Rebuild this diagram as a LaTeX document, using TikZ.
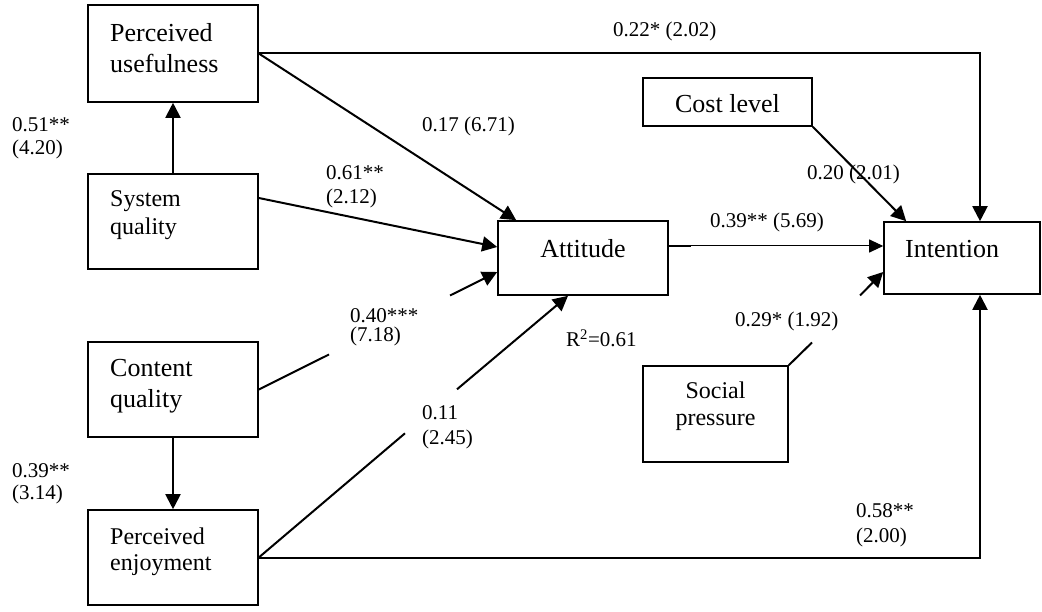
\documentclass[tikz,border=0pt]{standalone}
\usepackage{fontspec}
\setmainfont{Liberation Serif}
\usetikzlibrary{arrows.meta}
\begin{document}
\begin{tikzpicture}[x=1pt,y=-1pt,
  box/.style={draw, line width=1.6pt, inner sep=0pt},
  big/.style={font=\fontsize{26}{30}\selectfont, inner sep=0pt},
  mid/.style={font=\fontsize{24}{28}\selectfont, inner sep=0pt},
  lab/.style={font=\fontsize{21}{24}\selectfont, inner sep=0pt, anchor=base west},
  conn/.style={line width=2pt},
  arr/.style={conn, -{Triangle[length=15pt,width=15pt]}},
  thinarr/.style={line width=1pt, -{Triangle[length=14pt,width=13pt]}},
]
\useasboundingbox (0,0) rectangle (1042,612);

% boxes
\node[box, minimum width=170pt, minimum height=97pt] (pu) at (173,53.5) {};
\node[box, minimum width=170pt, minimum height=95pt] (sq) at (173,221.5) {};
\node[box, minimum width=170pt, minimum height=95pt] (cq) at (173,389.5) {};
\node[box, minimum width=170pt, minimum height=95pt] (pe) at (173,557.5) {};
\node[box, minimum width=170pt, minimum height=74pt] (att) at (583,258) {};
\node[box, minimum width=156pt, minimum height=72pt] (int) at (962,258) {};
\node[box, minimum width=169pt, minimum height=48pt] (cost) at (727.5,102) {};
\node[box, minimum width=145pt, minimum height=96pt] (sp) at (715.5,414) {};

% box texts
\node[big, anchor=base west] (pu1) at (110,42) {Perceived};
\node[big, anchor=base west] (pu2) at (110,73) {usefulness};
\node[mid, anchor=base west] (sq1) at (110,207) {System};
\node[mid, anchor=base west] (sq2) at (110,235) {quality};
\node[big, anchor=base west] (cq1) at (110,377) {Content};
\node[big, anchor=base west] (cq2) at (110,407) {quality};
\node[mid, anchor=base west] (pe1) at (110,544) {Perceived};
\node[mid, anchor=base west] (pe2) at (110,570) {enjoyment};
\node[big, anchor=base] (att1) at (583,258) {Attitude};
\node[big, anchor=base west] (int1) at (905,258) {Intention};
\node[big, anchor=base] (cost1) at (727.5,113) {Cost level};
\node[mid, anchor=base] (sp1) at (715.5,399) {Social};
\node[mid, anchor=base] (sp2) at (715.5,425) {pressure};

% break points
\coordinate (cqA) at (329,354.5);
\coordinate (cqB) at (450,295.5);
\coordinate (peA) at (405,433.3);
\coordinate (peB) at (457,389.3);
\coordinate (spA) at (812,342.5);
\coordinate (spB) at (860,295.5);

% connectors
\draw[arr] (sq.north) -- (pu.south);
\draw[arr] (cq.south) -- (pe.north);
\draw[arr] (pu.east) -| ([xshift=18pt]int.north);
\draw[arr] (pe.east) -| ([xshift=18pt]int.south);
\draw[arr] (pu.east) -- ([xshift=19pt]att.north west);
\draw[arr] ([yshift=23.5pt]sq.east) -- ([yshift=11pt]att.west);
\draw[conn] (cq.east) -- (cqA);
\draw[arr] (cqB) -- ([yshift=-14pt]att.west);
\draw[conn] (pe.east) -- (peA);
\draw[arr] (peB) -- ([xshift=-15pt]att.south);
\draw[conn] ([yshift=12pt]att.east) -- ++(22,0);
\draw[thinarr] ([yshift=12pt]att.east) -- ([yshift=12pt]int.west);
\draw[arr] (cost.south east) -- ([xshift=23pt]int.north west);
\draw[conn] (sp.north east) -- (spA);
\draw[arr] (spB) -- ([yshift=-14pt]int.west);

% labels
\node[lab] (l1) at (613,37) {0.22* (2.02)};
\node[lab] (l2) at (422,132) {0.17 (6.71)};
\node[lab] (l3a) at (326,180) {0.61**};
\node[lab] (l3b) at (326,204) {(2.12)};
\node[lab] (l4a) at (12,132) {0.51**};
\node[lab] (l4b) at (12,155) {(4.20)};
\node[lab] (l5a) at (350,323) {0.40***};
\node[lab] (l5b) at (350,342) {(7.18)};
\node[lab] (l6a) at (12,477) {0.39**};
\node[lab] (l6b) at (12,499) {(3.14)};
\node[lab] (l7a) at (422,420) {0.11};
\node[lab] (l7b) at (422,444) {(2.45)};
\node[lab] (l8) at (807,180) {0.20 (2.01)};
\node[lab] (l9) at (710,228) {0.39** (5.69)};
\node[lab] (l10) at (735,327) {0.29* (1.92)};
\node[lab] (l11) at (566,347) {R\textsuperscript{2}=0.61};
\node[lab] (l12a) at (856,517) {0.58**};
\node[lab] (l12b) at (856,542) {(2.00)};
\end{tikzpicture}
\end{document}
